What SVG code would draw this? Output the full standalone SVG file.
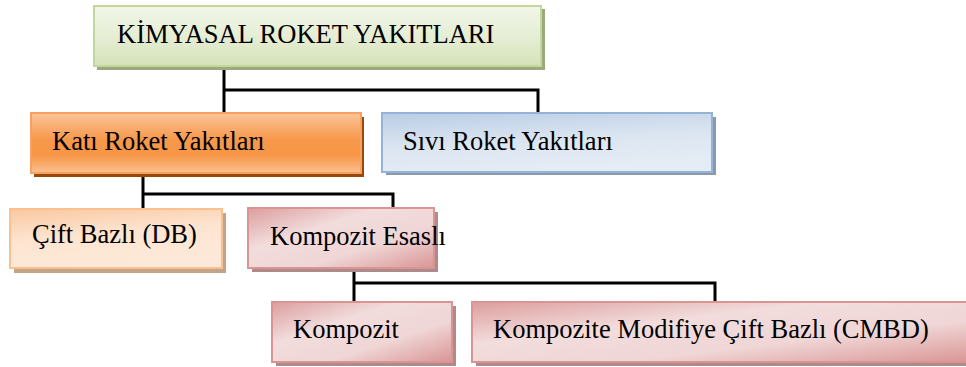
<svg xmlns="http://www.w3.org/2000/svg" width="966" height="367" viewBox="0 0 966 367">
<defs>
<linearGradient id="gGreen" x1="0" y1="0" x2="0" y2="1">
<stop offset="0" stop-color="#f1f6e8"/><stop offset="0.5" stop-color="#e6eed5"/><stop offset="1" stop-color="#d5e2b8"/>
</linearGradient>
<linearGradient id="gOrange" x1="0" y1="0" x2="0" y2="1">
<stop offset="0" stop-color="#fbc49a"/><stop offset="0.45" stop-color="#f7984b"/><stop offset="0.7" stop-color="#f79646"/><stop offset="1" stop-color="#fac090"/>
</linearGradient>
<linearGradient id="gBlue" x1="0" y1="0" x2="0.3" y2="1">
<stop offset="0" stop-color="#b9cde5"/><stop offset="0.55" stop-color="#dbe5f1"/><stop offset="1" stop-color="#e4ecf5"/>
</linearGradient>
<linearGradient id="gPeach" x1="0" y1="0" x2="0.3" y2="1">
<stop offset="0" stop-color="#f9c8a0"/><stop offset="0.5" stop-color="#fde4d0"/><stop offset="1" stop-color="#fde9d9"/>
</linearGradient>
<linearGradient id="gPink" x1="0" y1="0" x2="1" y2="1">
<stop offset="0" stop-color="#dc9e9d"/><stop offset="0.35" stop-color="#f2dcdc"/><stop offset="0.65" stop-color="#f0d6d6"/><stop offset="1" stop-color="#d99594"/>
</linearGradient>
</defs>
<style>
text{font-family:"Liberation Serif","Times New Roman",serif;font-size:26.5px;fill:#000}
.conn{fill:none;stroke:#000;stroke-width:3}
</style>
<g id="connectors">
<path class="conn" d="M224 66 V90 H538 V113 M224 90 V113"/>
<path class="conn" d="M143 173 V194 H393 V208 M143 194 V209"/>
<path class="conn" d="M354 268 V283 H715 V302 M354 283 V302"/>
</g>
<g id="n-kimyasal">
<rect x="97" y="9" width="448" height="61" fill="#9aaa7e"/>
<rect x="94" y="6" width="447" height="60" fill="url(#gGreen)" stroke="#c3d69b" stroke-width="2"/>
<text x="117" y="43">KİMYASAL ROKET YAKITLARI</text>
</g>
<g id="n-kati">
<rect x="34" y="117" width="330" height="60" fill="#984807"/>
<rect x="31" y="113" width="330" height="60" fill="url(#gOrange)" stroke="#f8a062" stroke-width="2"/>
<text x="52" y="150">Katı Roket Yakıtları</text>
</g>
<g id="n-sivi">
<rect x="386" y="117" width="330" height="58" fill="#8a9aae"/>
<rect x="382" y="113" width="330" height="59" fill="url(#gBlue)" stroke="#95b3d7" stroke-width="2"/>
<text x="403" y="150">Sıvı Roket Yakıtları</text>
</g>
<g id="n-cift">
<rect x="14" y="213" width="212" height="60" fill="#c3a488"/>
<rect x="10" y="209" width="212" height="59" fill="url(#gPeach)" stroke="#fac090" stroke-width="2"/>
<text x="32" y="243">Çift Bazlı (DB)</text>
</g>
<g id="n-kompozit-esasli">
<rect x="252" y="212" width="186" height="60" fill="#b08a8a"/>
<rect x="248" y="208" width="186" height="60" fill="url(#gPink)" stroke="#d99594" stroke-width="2"/>
<text x="270" y="245">Kompozit Esaslı</text>
</g>
<g id="n-kompozit">
<rect x="276" y="306" width="180" height="60" fill="#b08a8a"/>
<rect x="272" y="302" width="180" height="60" fill="url(#gPink)" stroke="#d99594" stroke-width="2"/>
<text x="293" y="338">Kompozit</text>
</g>
<g id="n-cmbd">
<rect x="476" y="306" width="500" height="60" fill="#b08a8a"/>
<rect x="472" y="302" width="500" height="60" fill="url(#gPink)" stroke="#d99594" stroke-width="2"/>
<text x="493" y="338">Kompozite Modifiye Çift Bazlı (CMBD)</text>
</g>
</svg>
